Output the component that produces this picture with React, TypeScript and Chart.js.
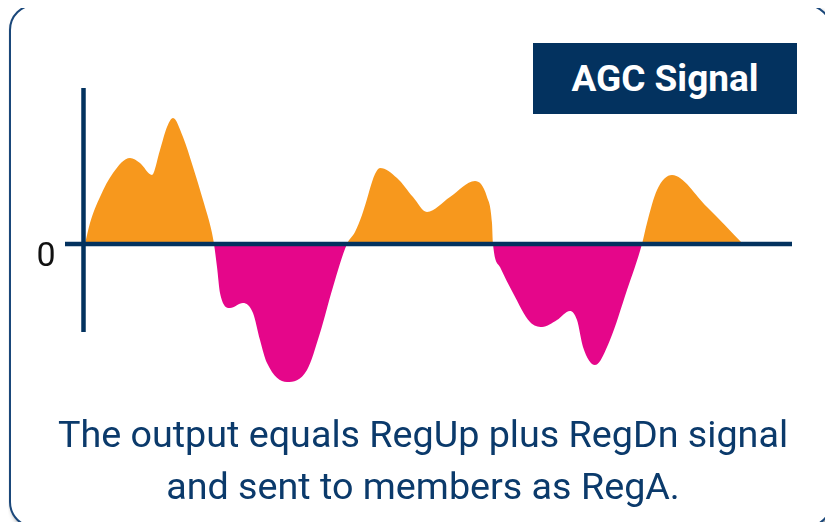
import React, { useEffect, useRef } from "react";
import { Chart, registerables } from "chart.js";

Chart.register(...registerables);

// Time (arbitrary units) and AGC signal value (arbitrary units)
const times: number[] = [
  0, 0.5, 1.5, 2.8, 4.5, 5.5, 6.7, 7.5, 8.2, 8.8, 9.8, 10.8, 11.8, 12.7, 12.9,
  13.2, 13.5, 14.5, 15.8, 16.8, 17.5, 18.2, 20.2, 22.2, 23.5, 24.8, 26.2,
  27.0, 27.7, 28.2, 28.7, 29.0, 29.5, 31.2, 32.8, 34.2, 36.5, 39.0, 40.2, 40.7, 40.8,
  41.5, 42.8, 44.5, 45.7, 47.2, 48.5, 49.2, 49.8, 51.0, 52.5, 54.2, 55.7,
  56.2, 57.2, 58.7, 62.2, 65.8,
];
const signal: number[] = [
  0, 2.1, 4.7, 7.1, 8.6, 8.1, 6.9, 9.4, 11.7, 12.6, 10.7, 7.7, 4.4, 1.1, 0,
  -2.3, -4.9, -6.4, -5.9, -6.9, -9.6, -11.9, -13.8, -12.6, -8.9, -4.3, 0,
  1.2, 2.9, 4.5, 6.2, 7.0, 7.6, 6.6, 4.7, 3.2, 4.7, 6.3, 4.7, 2.1, 0,
  -2.3, -4.9, -7.8, -8.3, -7.6, -6.7, -7.6, -10.3, -12.1, -9.6, -4.6, 0,
  2.1, 5.4, 6.9, 3.7, 0,
];
const zeroTickLabel = "0";
const titleText = "AGC Signal";
const captionLines = [
  "The output equals RegUp plus RegDn signal",
  "and sent to members as RegA.",
];

const NAVY = "#03325f";
const ORANGE = "#f7981d";
const MAGENTA = "#e5068a";

const axesPlugin = {
  id: "agcAxes",
  afterDatasetsDraw(chart: any) {
    const { ctx, chartArea, scales } = chart;
    const x = scales.x;
    const y = scales.y;
    const y0 = y.getPixelForValue(0);
    const yAxisX = x.getPixelForValue(-0.15);
    ctx.save();
    ctx.strokeStyle = NAVY;
    ctx.lineWidth = 4.5;
    ctx.lineCap = "butt";
    // vertical axis
    ctx.beginPath();
    ctx.moveTo(yAxisX, y.getPixelForValue(15.6));
    ctx.lineTo(yAxisX, y.getPixelForValue(-8.8));
    ctx.stroke();
    // horizontal zero axis
    ctx.beginPath();
    ctx.moveTo(chartArea.left, y0);
    ctx.lineTo(chartArea.right, y0);
    ctx.stroke();
    // zero label
    ctx.fillStyle = "#111111";
    ctx.font = "34px Roboto, 'Noto Sans', sans-serif";
    ctx.textAlign = "center";
    ctx.textBaseline = "middle";
    ctx.fillText(zeroTickLabel, chartArea.left - 19, y0 + 13);
    ctx.restore();
  },
};

export default function App() {
  const canvasRef = useRef<HTMLCanvasElement | null>(null);

  useEffect(() => {
    const canvas = canvasRef.current;
    if (!canvas) return;
    const chart = new Chart(canvas, {
      type: "line",
      data: {
        datasets: [
          {
            data: times.map((t, i) => ({ x: t, y: signal[i] })),
            borderWidth: 0,
            borderColor: "rgba(0,0,0,0)",
            pointRadius: 0,
            cubicInterpolationMode: "monotone",
            fill: { target: { value: 0 }, above: ORANGE, below: MAGENTA },
          },
        ],
      },
      options: {
        animation: false,
        responsive: false,
        maintainAspectRatio: false,
        layout: { padding: { left: 65, right: 41, top: 80, bottom: 130 } },
        plugins: { legend: { display: false }, tooltip: { enabled: false } },
        scales: {
          x: { type: "linear", min: -2, max: 70.7, display: false },
          y: { type: "linear", min: -15.6, max: 16.4, display: false },
        },
      },
      plugins: [axesPlugin],
    });
    return () => chart.destroy();
  }, []);

  return (
    <div style={{ position: "relative", width: 833, height: 530, margin: -8, overflow: "hidden", background: "#fff" }}>
      <div
        style={{
          position: "absolute",
          left: 9,
          top: 4,
          width: 823,
          height: 524,
          boxSizing: "border-box",
          border: "2px solid #1a477a",
          borderRadius: 26,
          boxShadow: "2px 3px 4px rgba(0,0,0,0.35)",
          background: "#fff",
        }}
      />
      <canvas
        ref={canvasRef}
        width={833}
        height={530}
        style={{ position: "absolute", left: 0, top: 0, width: 833, height: 530 }}
      />
      <div
        style={{
          position: "absolute",
          left: 533,
          top: 43,
          width: 264,
          height: 71,
          background: NAVY,
          color: "#fff",
          fontFamily: "Roboto, 'Noto Sans', sans-serif",
          fontWeight: 700,
          fontSize: 37,
          display: "flex",
          alignItems: "center",
          justifyContent: "center",
        }}
      >
        {titleText}
      </div>
      <div
        style={{
          position: "absolute",
          left: 0,
          width: 846,
          top: 408,
          textAlign: "center",
          color: "#0b3a6b",
          fontFamily: "Roboto, 'Noto Sans', sans-serif",
          fontSize: 37.7,
          lineHeight: "52px",
          whiteSpace: "nowrap",
        }}
      >
        {captionLines.map((l, i) => (
          <div key={i}>{l}</div>
        ))}
      </div>
    </div>
  );
}
